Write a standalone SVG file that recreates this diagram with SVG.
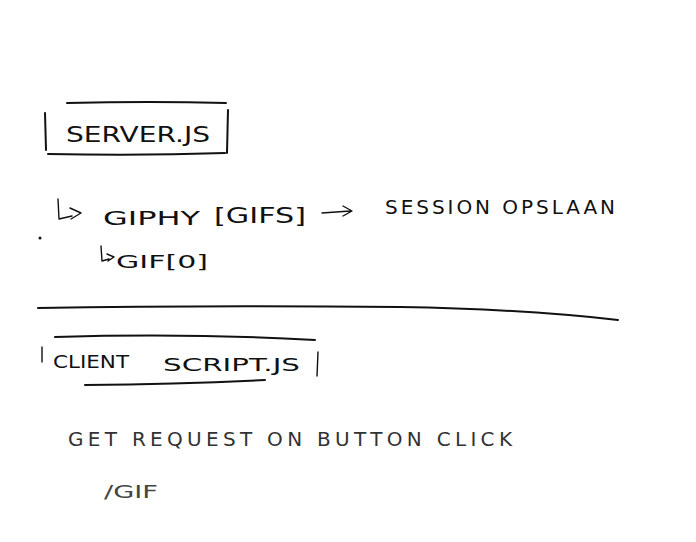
<svg xmlns="http://www.w3.org/2000/svg" width="696" height="542" viewBox="0 0 696 542">
<style>
.t{font-family:"DejaVu Sans","Liberation Sans",sans-serif;fill:#111;font-weight:normal}
.s{fill:none;stroke:#111;stroke-width:2;stroke-linecap:round;stroke-linejoin:round}
.f{fill:none;stroke:#111;stroke-width:1.4;stroke-linecap:round;stroke-linejoin:round}
</style>
<rect width="696" height="542" fill="#ffffff"/>
<g id="server-box">
<path class="s" d="M67 103 Q150 101 226 103"/>
<path class="s" d="M48 154 Q140 156 225 153"/>
<path class="s" d="M45 113 L46 150"/>
<path class="s" d="M228 110 L227 153"/>
<text class="t" x="66" y="142" font-size="21" textLength="144" lengthAdjust="spacingAndGlyphs">SERVER.JS</text>
</g>
<g id="giphy">
<path class="f" d="M58 199 L59 219 L72 216 M70 208 L81 213 L71 219"/>
<text class="t" x="103" y="225" font-size="20" textLength="97" lengthAdjust="spacingAndGlyphs">GIPHY</text>
<text class="t" x="214" y="223" font-size="22" textLength="92" lengthAdjust="spacingAndGlyphs">[GIFS]</text>
</g>
<g id="session">
<text class="t" x="385" y="214" font-size="20" textLength="230" lengthAdjust="spacing">SESSION OPSLAAN</text>
</g>
<g id="gif0">
<path class="f" d="M101 246 L102 261 L109 259 M107 254 L114 257 L108 261"/>
<text class="t" x="116" y="268" font-size="18" textLength="92" lengthAdjust="spacingAndGlyphs">GIF[0]</text>
</g>
<g id="client-box">
<path class="s" d="M55 337 Q190 333 315 340"/>
<path class="s" d="M85 385 Q180 384 265 380"/>
<path class="f" d="M42 347 L42 362"/>
<path class="f" d="M318 352 L317 376"/>
<text class="t" x="53" y="368" font-size="17" textLength="76" lengthAdjust="spacingAndGlyphs">CLIENT</text>
<text class="t" x="163" y="371" font-size="18" textLength="137" lengthAdjust="spacingAndGlyphs">SCRIPT.JS</text>
</g>
<g id="get-request">
<text class="t" x="68" y="446" font-size="20" textLength="444" lengthAdjust="spacing" style="fill:#333">GET REQUEST ON BUTTON CLICK</text>
</g>
<g id="gif-route">
<text class="t" x="104" y="498" font-size="18" textLength="54" lengthAdjust="spacingAndGlyphs" style="fill:#444">/GIF</text>
</g>
<g id="connectors">
<path class="f" d="M322 213 L350 211 M343 206 L352 211 L343 216"/>
<path class="s" d="M38 308 Q200 305 400 307 Q520 309 618 320"/>
<circle cx="40" cy="238" r="1.5" fill="#111"/>
</g>
</svg>
